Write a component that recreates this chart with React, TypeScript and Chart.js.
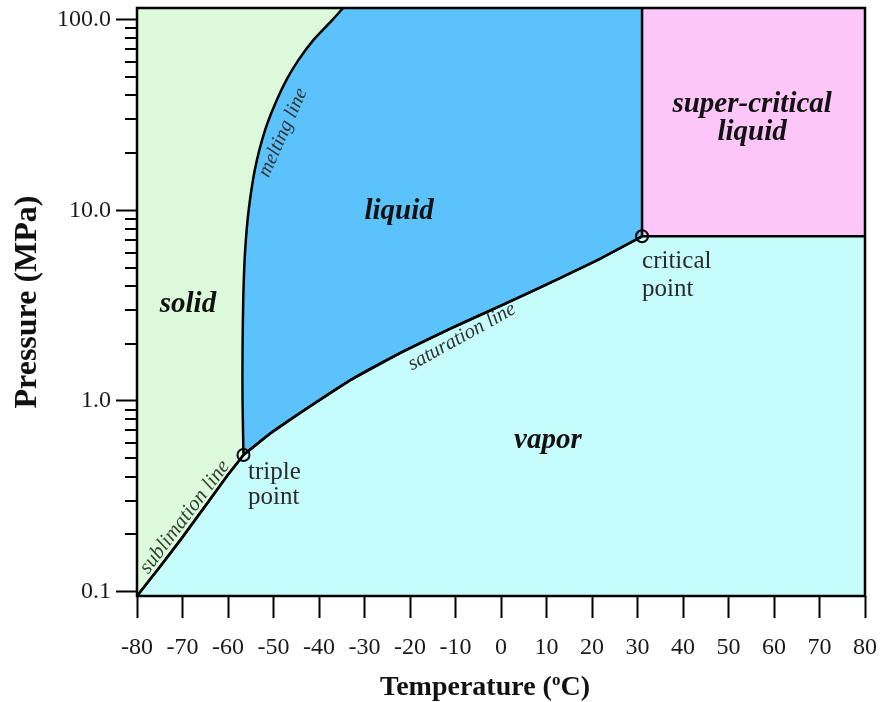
import React, { useEffect, useRef } from "react";
import { Chart, registerables } from "chart.js";

Chart.register(...registerables);

// ---- data ----
const sublimationT = [-80, -75, -70, -65, -60, -56.6];
const sublimationP = [0.0948, 0.1345, 0.193, 0.281, 0.41, 0.52];

const meltingT = [-56.6, -56.8, -56.8, -56.65, -56.35, -55.9, -55.45, -54.85, -54.1, -53.1, -51.45, -49.25, -47.15, -44.5, -41.2, -37.05, -34.7];
const meltingP = [0.52, 1.0, 1.85, 3.39, 5.49, 7.89, 10.05, 12.8, 16.3, 20.75, 28.1, 38, 48.3, 61.5, 78.3, 99.7, 115];

const saturationT = [-56.6, -50.8, -44, -33, -22, -11, 0, 11, 22, 31];
const saturationP = [0.52, 0.673, 0.87, 1.29, 1.79, 2.4, 3.16, 4.18, 5.6, 7.3];

const tripleT = -56.6;
const tripleP = 0.52;
const criticalT = 31;
const criticalP = 7.3;

const tMin = -80;
const tMax = 80;
const pMin = 0.0948;
const pMax = 115;

const xTicks = [-80, -70, -60, -50, -40, -30, -20, -10, 0, 10, 20, 30, 40, 50, 60, 70, 80];
const yTicks = [0.1, 1, 10, 100];
const yTickLabels = ["0.1", "1.0", "10.0", "100.0"];
const yMinorTicks = [
  0.2, 0.3, 0.4, 0.5, 0.6, 0.7, 0.8, 0.9,
  2, 3, 4, 5, 6, 7, 8, 9,
  20, 30, 40, 50, 60, 70, 80, 90,
];

const xTitle = ["Temperature (", "o", "C)"];
const yTitle = "Pressure (MPa)";

const SERIF = "'Liberation Serif', 'Times New Roman', serif";

// text annotations placed in data coordinates
const annotations = [
  { text: "solid", t: -68.8, p: 3.19, font: `italic bold 29px ${SERIF}`, color: "#111", angle: 0, align: "center" },
  { text: "liquid", t: -22.4, p: 9.8, font: `italic bold 29px ${SERIF}`, color: "#111", angle: 0, align: "center" },
  { text: "vapor", t: 10.3, p: 0.62, font: `italic bold 29px ${SERIF}`, color: "#111", angle: 0, align: "center" },
  { text: "super-critical", t: 55.2, p: 35.7, font: `italic bold 29px ${SERIF}`, color: "#111", angle: 0, align: "center" },
  { text: "liquid", t: 55.2, p: 25.5, font: `italic bold 29px ${SERIF}`, color: "#111", angle: 0, align: "center" },
  { text: "triple", t: -55.6, p: 0.424, font: `25px ${SERIF}`, color: "#2a2a2a", angle: 0, align: "left" },
  { text: "point", t: -55.6, p: 0.313, font: `25px ${SERIF}`, color: "#2a2a2a", angle: 0, align: "left" },
  { text: "critical", t: 31.0, p: 5.36, font: `25px ${SERIF}`, color: "#2a2a2a", angle: 0, align: "left" },
  { text: "point", t: 31.0, p: 3.82, font: `25px ${SERIF}`, color: "#2a2a2a", angle: 0, align: "left" },
  { text: "melting line", t: -47.9, p: 25.5, font: `italic 20px ${SERIF}`, color: "#333", angle: -66, align: "center" },
  { text: "saturation line", t: -8.6, p: 2.17, font: `italic 20.5px ${SERIF}`, color: "#333", angle: -29, align: "center" },
  { text: "sublimation line", t: -69.5, p: 0.246, font: `italic 21px ${SERIF}`, color: "#334433", angle: -53, align: "center" },
];

const COLORS = {
  solid: "#dcfadb",
  liquid: "#5cc2fb",
  vapor: "#c7fcfd",
  super: "#fdc6f8",
  line: "#000000",
};

const pts = (ts: number[], ps: number[]) => ts.map((t, i) => ({ x: t, y: ps[i] }));

const decorPlugin = {
  id: "decor",
  afterDraw(chart: any) {
    const { ctx, chartArea, scales } = chart;
    const xs = scales.x;
    const ys = scales.y;
    ctx.save();
    // minor y ticks
    ctx.strokeStyle = "#000";
    ctx.lineWidth = 2;
    yMinorTicks.forEach((v) => {
      const py = Math.round(ys.getPixelForValue(v));
      ctx.beginPath();
      ctx.moveTo(chartArea.left - 12, py);
      ctx.lineTo(chartArea.left, py);
      ctx.stroke();
    });
    // frame
    ctx.lineWidth = 2.5;
    ctx.strokeRect(chartArea.left, chartArea.top, chartArea.right - chartArea.left, chartArea.bottom - chartArea.top);

    // annotations
    annotations.forEach((a) => {
      const px = xs.getPixelForValue(a.t);
      const py = ys.getPixelForValue(a.p);
      ctx.save();
      ctx.translate(px, py);
      ctx.rotate((a.angle * Math.PI) / 180);
      ctx.font = a.font;
      ctx.fillStyle = a.color;
      ctx.textAlign = a.align as CanvasTextAlign;
      ctx.textBaseline = "middle";
      ctx.fillText(a.text, 0, 0);
      ctx.restore();
    });

    // y title
    ctx.save();
    ctx.font = `bold 32px ${SERIF}`;
    ctx.fillStyle = "#111";
    ctx.textAlign = "center";
    ctx.textBaseline = "middle";
    ctx.translate(28, (chartArea.top + chartArea.bottom) / 2);
    ctx.rotate(-Math.PI / 2);
    ctx.fillText(yTitle, 0, 0);
    ctx.restore();

    // x title with superscript
    ctx.save();
    ctx.fillStyle = "#111";
    ctx.textBaseline = "alphabetic";
    const big = `bold 28px ${SERIF}`;
    const small = `bold 17px ${SERIF}`;
    ctx.font = big;
    const w1 = ctx.measureText(xTitle[0]).width;
    const w3 = ctx.measureText(xTitle[2]).width;
    ctx.font = small;
    const w2 = ctx.measureText(xTitle[1]).width;
    const total = w1 + w2 + w3;
    const cx = (chartArea.left + chartArea.right) / 2 - 16;
    const base = 695;
    let x0 = cx - total / 2;
    ctx.font = big;
    ctx.textAlign = "left";
    ctx.fillText(xTitle[0], x0, base);
    x0 += w1;
    ctx.font = small;
    ctx.fillText(xTitle[1], x0, base - 10);
    x0 += w2;
    ctx.font = big;
    ctx.fillText(xTitle[2], x0, base);
    ctx.restore();

    ctx.restore();
  },
};

export default function App() {
  const ref = useRef<HTMLCanvasElement | null>(null);

  useEffect(() => {
    if (!ref.current) return;
    const sub = pts(sublimationT, sublimationP);
    const melt = pts(meltingT, meltingP);
    const sat = pts(saturationT, saturationP);

    const lineCommon = {
      pointRadius: 0,
      borderColor: COLORS.line,
      tension: 0.3,
      borderJoinStyle: "round",
    };

    const chart = new Chart(ref.current, {
      type: "line",
      data: {
        datasets: [
          {
            label: "liquid",
            data: sat,
            ...lineCommon,
            borderWidth: 0,
            backgroundColor: COLORS.liquid,
            fill: "end",
            order: 7,
          } as any,
          {
            label: "solid",
            data: [...sub, ...melt.slice(1)],
            ...lineCommon,
            tension: 0,
            borderWidth: 0,
            backgroundColor: COLORS.solid,
            fill: "end",
            order: 6,
          } as any,
          {
            label: "super-critical",
            data: [
              { x: criticalT, y: criticalP },
              { x: tMax, y: criticalP },
            ],
            ...lineCommon,
            tension: 0,
            borderWidth: 0,
            backgroundColor: COLORS.super,
            fill: "end",
            order: 5,
          } as any,
          {
            label: "vapor",
            data: [...sub, ...sat.slice(1), { x: tMax, y: criticalP }],
            ...lineCommon,
            tension: 0,
            borderWidth: 2.5,
            backgroundColor: COLORS.vapor,
            fill: "start",
            order: 4,
          } as any,
          {
            label: "melting line",
            data: melt,
            ...lineCommon,
            borderWidth: 2.5,
            fill: false,
            order: 3,
          } as any,
          {
            label: "saturation line",
            data: sat,
            ...lineCommon,
            borderWidth: 2.5,
            fill: false,
            order: 3,
          } as any,
          {
            label: "sublimation line",
            data: sub,
            ...lineCommon,
            borderWidth: 2.5,
            fill: false,
            order: 3,
          } as any,
          {
            label: "critical isotherm",
            data: [
              { x: criticalT, y: criticalP },
              { x: criticalT, y: pMax },
            ],
            pointRadius: 0,
            borderColor: COLORS.line,
            borderWidth: 2.5,
            fill: false,
            tension: 0,
            order: 2,
          } as any,
          {
            label: "points",
            data: [
              { x: tripleT, y: tripleP },
              { x: criticalT, y: criticalP },
            ],
            showLine: false,
            pointRadius: 6,
            pointBorderWidth: 2,
            pointBorderColor: "#000",
            pointBackgroundColor: "rgba(0,0,0,0)",
            pointStyle: "circle",
            fill: false,
            order: 1,
          } as any,
        ],
      },
      options: {
        animation: false,
        responsive: false,
        devicePixelRatio: 1,
        layout: { padding: { top: 8, right: 16, left: 0, bottom: 0 } },
        plugins: {
          legend: { display: false },
          tooltip: { enabled: false },
          title: { display: false },
        },
        scales: {
          x: {
            type: "linear",
            min: tMin,
            max: tMax,
            afterBuildTicks: (s: any) => {
              s.ticks = xTicks.map((v) => ({ value: v }));
            },
            afterFit: (s: any) => {
              s.height = 106;
              s.paddingLeft = 0;
              s.paddingRight = 0;
            },
            ticks: {
              autoSkip: false,
              maxRotation: 0,
              padding: 15,
              color: "#1a1a1a",
              font: { family: SERIF, size: 24 },
              callback: (v: any) => String(v),
            },
            grid: {
              drawOnChartArea: false,
              drawTicks: true,
              tickLength: 22,
              tickWidth: 2,
              tickColor: "#000",
              color: "#000",
            },
            border: { display: false },
          },
          y: {
            type: "logarithmic",
            min: pMin,
            max: pMax,
            afterBuildTicks: (s: any) => {
              s.ticks = yTicks.map((v) => ({ value: v }));
            },
            afterFit: (s: any) => {
              s.width = 137;
              s.paddingTop = 0;
              s.paddingBottom = 0;
            },
            ticks: {
              autoSkip: false,
              padding: 5,
              color: "#1a1a1a",
              font: { family: SERIF, size: 24 },
              callback: (v: any) => {
                const i = yTicks.indexOf(Number(v));
                return i >= 0 ? yTickLabels[i] : "";
              },
            },
            grid: {
              drawOnChartArea: false,
              drawTicks: true,
              tickLength: 21,
              tickWidth: 2,
              tickColor: "#000",
              color: "#000",
            },
            border: { display: false },
          },
        },
      } as any,
      plugins: [decorPlugin],
    });
    return () => chart.destroy();
  }, []);

  return (
    <div style={{ position: "absolute", left: 0, top: 0, width: 881, height: 702, background: "#fff" }}>
      <canvas ref={ref} width={881} height={702} style={{ width: 881, height: 702, display: "block" }} />
    </div>
  );
}
